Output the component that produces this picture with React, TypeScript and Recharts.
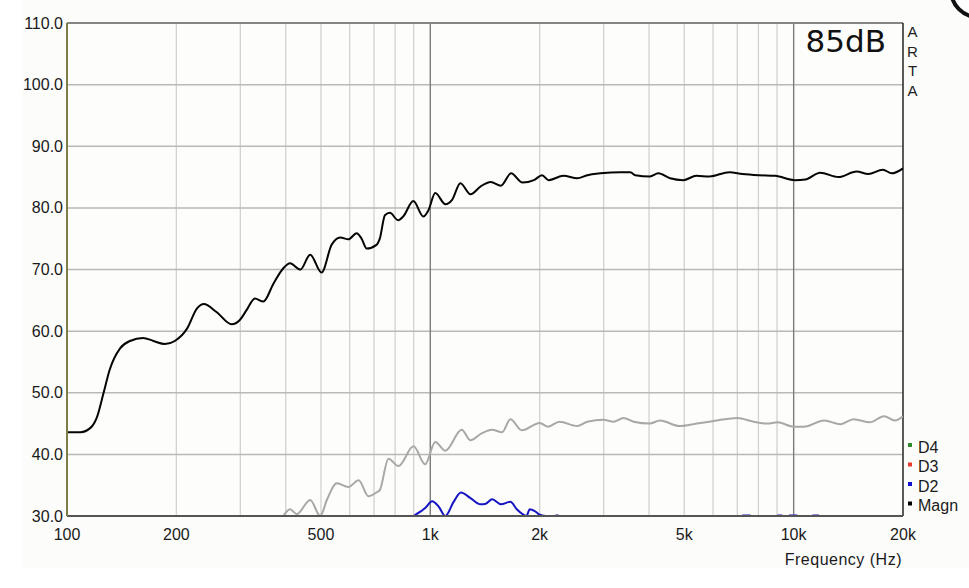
import { LineChart, Line, XAxis, YAxis, CartesianGrid, ReferenceLine } from 'recharts'

// Magn curve (black)
const magnFreq = [
  100, 109, 116, 121, 126, 131, 140, 149, 162, 173, 186, 198, 214, 228, 238, 258, 284, 299, 312, 329,
  347, 370, 394, 411, 439, 467, 502, 535, 565, 595, 627, 647, 668, 711, 726, 750, 774, 815, 842, 898,
  957, 988, 1032, 1100, 1148, 1210, 1290, 1376, 1467, 1564, 1668, 1793, 1928, 2031, 2114, 2324, 2537,
  2705, 2940, 3334, 3552, 3665, 4022, 4241, 4570, 4966, 5400, 5867, 6652, 7231, 8022, 8893, 10100,
  10770, 11830, 13280, 14900, 16050, 17600, 18630, 20000,
]
const magnDb = [
  43.6, 43.6, 44.3, 46.1, 49.9, 53.7, 57.2, 58.4, 58.9, 58.4, 57.9, 58.4, 60.4, 63.7, 64.4, 63.1, 61.1, 61.8, 63.4, 65.3,
  64.8, 67.7, 70.2, 71.0, 70.0, 72.4, 69.5, 74.0, 75.2, 74.9, 75.9, 75.0, 73.4, 74.0, 75.0, 78.8, 79.2, 78.0, 78.6, 81.1,
  78.6, 79.6, 82.4, 80.6, 81.3, 84.0, 82.2, 83.5, 84.2, 83.6, 85.6, 84.1, 84.5, 85.3, 84.5, 85.2, 84.8,
  85.3, 85.6, 85.8, 85.8, 85.3, 85.1, 85.6, 84.8, 84.5, 85.2, 85.1, 85.8, 85.5, 85.3, 85.2, 84.5,
  84.6, 85.7, 85.0, 85.9, 85.5, 86.2, 85.6, 86.4,
]

// grey curve
const greyFreq = [
  394, 411, 429, 467, 498, 519, 553, 595, 635, 676, 714, 726, 767, 817, 899, 968, 1032, 1100, 1220, 1290,
  1384, 1478, 1577, 1661, 1785, 2000, 2110, 2267, 2536, 2704, 2995, 3194, 3402, 3628, 4020, 4285, 4850,
  5420, 6150, 6990, 7760, 8460, 9030, 10000, 10660, 12140, 13460, 14620, 16210, 17740, 19010, 20000,
]
const greyDb = [
  30.0, 31.1, 30.3, 32.6, 30.0, 32.6, 35.3, 34.7, 35.8, 33.2, 33.9, 34.2, 39.3, 38.1, 41.3, 38.4, 42.0, 40.6, 44.0, 42.3,
  43.4, 44.0, 43.6, 45.7, 43.9, 45.1, 44.5, 45.3, 44.6, 45.3, 45.6, 45.3, 45.9, 45.3, 45.0, 45.5, 44.6,
  45.0, 45.5, 45.9, 45.3, 45.0, 45.2, 44.5, 44.5, 45.5, 44.9, 45.7, 45.2, 46.2, 45.5, 46.2,
]

// D2 (blue), null = below the 30 dB floor
const d2Freq = [
  899, 939, 968, 1012, 1055, 1100, 1159, 1214, 1290, 1376, 1421, 1480, 1564, 1661, 1730, 1785, 1839, 1878,
  1939, 2000, 2076, 2140, 2210, 2257, 2400, 7220, 7610, 8200, 9020, 9310, 9500, 9710, 10240, 10700, 11260, 11740,
]
const d2Db = [
  30.0, 30.7, 31.3, 32.4, 31.5, 30.0, 32.3, 33.8, 32.9, 31.9, 32.0, 32.7, 31.9, 32.3, 31.1, 30.4, 30.0, 31.1,
  30.8, 30.2, 30.0, null, 30.1, 30.1, null, 30.1, 30.1, null, 30.1, 30.1, null, 30.1, 30.1, null, 30.1, 30.1,
]

const yTicks = [30, 40, 50, 60, 70, 80, 90, 100, 110]
const xGrid = [
  100, 200, 300, 400, 500, 600, 700, 800, 900, 1000, 2000, 3000, 4000, 5000, 6000, 7000, 8000, 9000, 10000, 20000,
]
const xLabels: Record<number, string> = {
  100: '100', 200: '200', 500: '500', 1000: '1k', 2000: '2k', 5000: '5k', 10000: '10k', 20000: '20k',
}
const legendItems = [
  { name: 'D4', color: '#2e8b2e' },
  { name: 'D3', color: '#e8392c' },
  { name: 'D2', color: '#1010d0' },
  { name: 'Magn', color: '#000000' },
]
const brand = ['A', 'R', 'T', 'A']

const zip = (fs: number[], ds: (number | null)[]) => fs.map((f, i) => ({ f, db: ds[i] }))
const magnData = zip(magnFreq, magnDb)
const greyData = zip(greyFreq, greyDb)
const d2Data = zip(d2Freq, d2Db)

const FONT = '"Liberation Sans", Arial, sans-serif'

const YTick = ({ x, y, payload }: any) => (
  <text x={x} y={y} dy={5.6} textAnchor="end" fontSize={16} fontFamily={FONT} fill="#1a1a1a">
    {Number(payload.value).toFixed(1)}
  </text>
)

const XTick = ({ x, y, payload }: any) => {
  const label = xLabels[payload.value]
  if (!label) return null
  return (
    <text x={x} y={y} dy={24} textAnchor="middle" fontSize={16} fontFamily={FONT} fill="#1a1a1a">
      {label}
    </text>
  )
}

export default function App() {
  return (
    <div style={{ position: 'absolute', left: 0, top: 0, width: 969, height: 588, background: '#fff' }}>
      <div style={{ position: 'absolute', left: 22, top: 0, width: 947, height: 568, background: '#fcfcfa' }} />
      <div style={{ position: 'absolute', left: 0, top: 0 }}>
        <LineChart width={969} height={588} margin={{ top: 23, right: 66, bottom: 0, left: 0 }}>
          <CartesianGrid horizontal={false} stroke="#d2d2d2" strokeWidth={1.3} fill="#fdfdfb" />
          <CartesianGrid vertical={false} stroke="#b9b9b9" strokeWidth={1.5} />
          <XAxis
            dataKey="f"
            type="number"
            scale="log"
            domain={[100, 20000]}
            allowDataOverflow
            ticks={xGrid}
            interval={0}
            tick={<XTick />}
            tickLine={false}
            tickSize={0}
            tickMargin={0}
            height={72}
            axisLine={{ stroke: '#555', strokeWidth: 2 }}
          />
          <YAxis
            type="number"
            domain={[30, 110]}
            allowDataOverflow
            ticks={yTicks}
            interval={0}
            tick={<YTick />}
            tickLine={false}
            tickSize={0}
            tickMargin={4}
            width={67}
            axisLine={{ stroke: '#7d7d45', strokeWidth: 2 }}
          />
          <ReferenceLine x={1000} stroke="#7a7a7a" strokeWidth={1.3} />
          <ReferenceLine x={10000} stroke="#7a7a7a" strokeWidth={1.3} />
          <ReferenceLine y={110} stroke="#858585" strokeWidth={2} />
          <ReferenceLine x={20000} stroke="#111" strokeWidth={1.3} />
          <Line data={greyData} dataKey="db" type="monotone" stroke="#a8a8a8" strokeWidth={2} dot={false} isAnimationActive={false} />
          <Line data={d2Data} dataKey="db" type="monotone" stroke="#1515c4" strokeWidth={2} dot={false} connectNulls={false} isAnimationActive={false} />
          <Line data={magnData} dataKey="db" type="monotone" stroke="#050505" strokeWidth={2} dot={false} isAnimationActive={false} />
        </LineChart>
      </div>
      <svg width={969} height={588} style={{ position: 'absolute', left: 0, top: 0, pointerEvents: 'none' }}>
        <text x={886} y={51.5} textAnchor="end" fontSize={31} fontFamily='"DejaVu Sans", sans-serif' fill="#111">
          85dB
        </text>
        {brand.map((c, i) => (
          <text key={i} x={912.5} y={37 + i * 19.5} textAnchor="middle" fontSize={15} fontFamily={FONT} fill="#222">
            {c}
          </text>
        ))}
        <text x={902} y={565} textAnchor="end" fontSize={16} fontFamily={FONT} fill="#1a1a1a" letterSpacing={0.5}>
          Frequency (Hz)
        </text>
        {legendItems.map((it, i) => (
          <g key={it.name}>
            <rect x={908} y={443 + i * 19.5} width={4} height={4} fill={it.color} />
            <text x={918} y={452.7 + i * 19.5} fontSize={16} fontFamily={FONT} fill="#1a1a1a">
              {it.name}
            </text>
          </g>
        ))}
        <circle cx={978} cy={-10} r={27} fill="#fff" stroke="#111" strokeWidth={4} />
      </svg>
    </div>
  )
}
